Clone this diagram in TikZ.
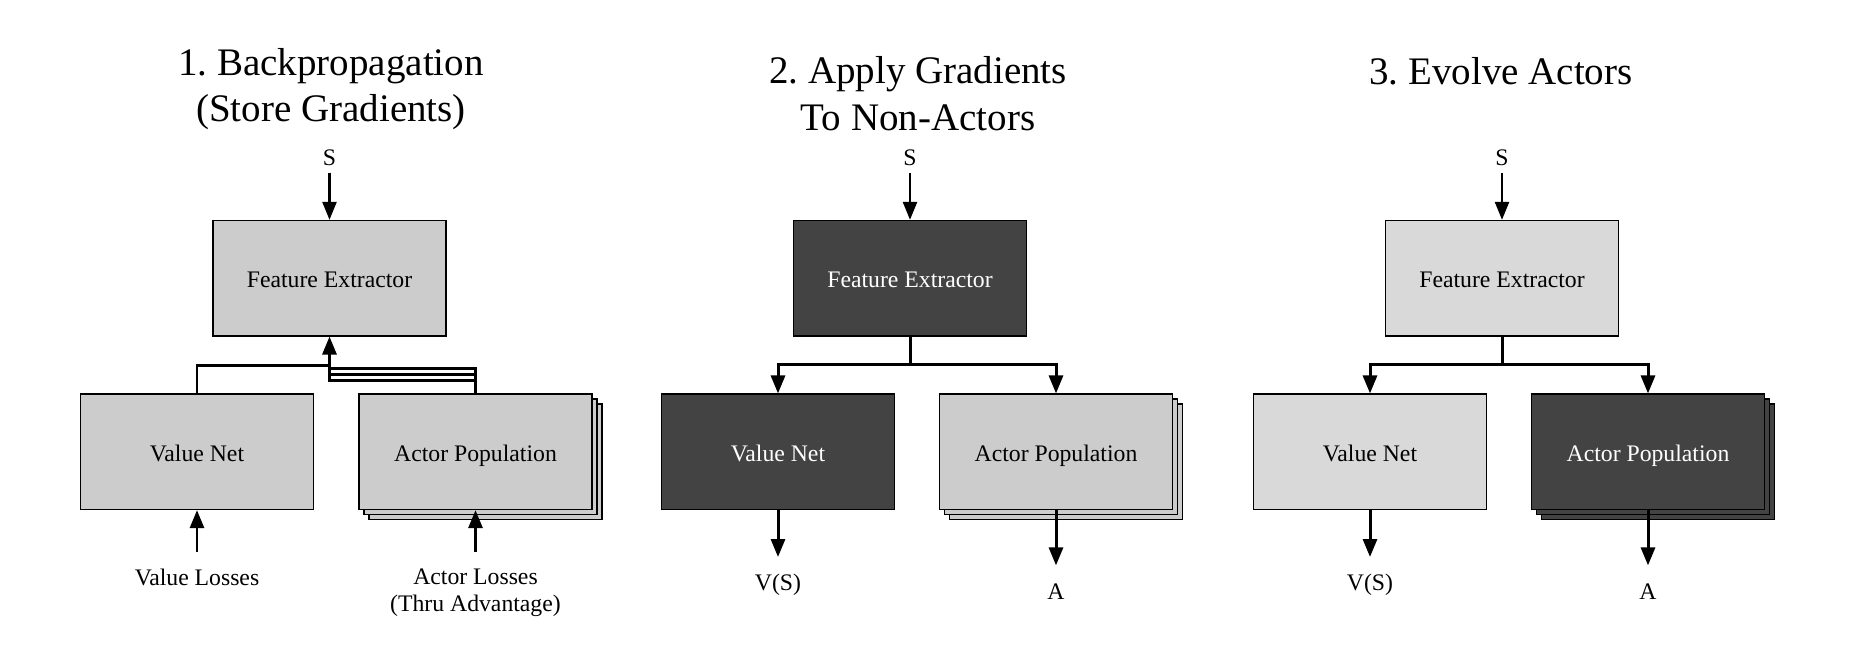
\documentclass[tikz,border=0pt]{standalone}
\usepackage{fontspec}
\setmainfont{Liberation Serif}
\usetikzlibrary{arrows.meta}
\definecolor{boxgray}{HTML}{CCCCCC}
\definecolor{boxpale}{HTML}{D9D9D9}
\definecolor{boxdark}{HTML}{434343}
\frenchspacing

\begin{document}
\begin{tikzpicture}[x = 0.02cm, y = -0.02cm]
\tikzstyle{BoxStyle}=[
shape = rectangle,
minimum width = 4.66cm,
minimum height = 2.31cm,
inner sep = 0pt,
text height = 10.5pt,
text depth = 0pt,
line width = 0.7pt,
font = \fontsize{13.5}{16}\selectfont,
draw]
\tikzstyle{GrayBox}=[BoxStyle, fill = boxgray]
\tikzstyle{PaleBox}=[BoxStyle, fill = boxpale]
\tikzstyle{DarkBox}=[BoxStyle, fill = boxdark, text = white]
\tikzstyle{TitleStyle}=[anchor = north, inner sep = 0pt, align = center, font = \fontsize{22.2}{26.5}\selectfont]
\tikzstyle{LabelStyle}=[anchor = north, inner sep = 0pt, align = center, font = \fontsize{13.5}{15.2}\selectfont]
\tikzstyle{InStyle}=[anchor = south, inner sep = 0pt, font = \fontsize{13.5}{16}\selectfont]
\tikzstyle{Link}=[line width = 1.7pt]
\tikzstyle{Flow}=[Link, -{Triangle[length = 0.36cm, width = 0.28cm]}]
\tikzstyle{Feed}=[Flow, line width = 1.4pt, shorten <= 0.13cm]
\useasboundingbox (0,0) rectangle (1857,656);
\node[TitleStyle] (t1) at (331,48) {1. Backpropagation\\(Store Gradients)};
\node[InStyle] (s1) at (329.5,166) {S};
\node[GrayBox] (fe1) at (329.5,278.2) {Feature Extractor};
\node[GrayBox] (vn1) at (197,451.8) {Value Net};
\node[GrayBox] (ap1c) at (485.5,461.8) {};
\node[GrayBox] (ap1b) at (480.5,456.8) {};
\node[GrayBox] (ap1) at (475.5,451.8) {Actor Population};
\node[LabelStyle] (vl1) at (197,568.7) {Value Losses};
\node[LabelStyle] (al1) at (475.5,568.7) {Actor Losses\\(Thru Advantage)};
\coordinate (g1v) at (329.5,365.7);
\coordinate (g1a) at (329.5,368.7);
\coordinate (g1b) at (329.5,374.3);
\coordinate (g1c) at (329.5,380.7);
\draw[Feed] (s1) -- (fe1);
\draw[Link] (vn1.north) |- (g1v);
\draw[Link] (ap1.north) |- (g1a);
\draw[Link] (ap1.north) |- (g1b);
\draw[Flow] (ap1.north) |- (g1c) -- (fe1.south);
\draw[Flow, shorten <= 0.34cm] (vl1) -- (vn1);
\draw[Flow, shorten <= 0.34cm] (al1) -- (ap1);
\node[TitleStyle] (t2) at (918,56.4) {2. Apply Gradients\\To Non-Actors};
\node[InStyle] (s2) at (910,166) {S};
\node[DarkBox] (fe2) at (910,278.2) {Feature Extractor};
\node[DarkBox] (vn2) at (778,451.8) {Value Net};
\node[GrayBox] (ap2c) at (1066,461.8) {};
\node[GrayBox] (ap2b) at (1061,456.8) {};
\node[GrayBox] (ap2) at (1056,451.8) {Actor Population};
\node[LabelStyle] (vs2) at (778,574) {V(S)};
\node[LabelStyle] (a2) at (1056,583.4) {A};
\coordinate (g2) at (910,364.7);
\draw[Feed] (s2) -- (fe2);
\draw[Link] (fe2.south) -- (g2);
\draw[Flow] (g2) -| (vn2.north);
\draw[Flow] (g2) -| (ap2.north);
\draw[Flow, shorten >= 0.34cm] (vn2) -- (vs2);
\draw[Flow, shorten >= 0.36cm] (ap2) -- (a2);
\node[TitleStyle] (t3) at (1501,57.1) {3. Evolve Actors};
\node[InStyle] (s3) at (1502,166) {S};
\node[PaleBox] (fe3) at (1502,278.2) {Feature Extractor};
\node[PaleBox] (vn3) at (1370,451.8) {Value Net};
\node[DarkBox] (ap3c) at (1658,461.8) {};
\node[DarkBox] (ap3b) at (1653,456.8) {};
\node[DarkBox] (ap3) at (1648,451.8) {Actor Population};
\node[LabelStyle] (vs3) at (1370,574) {V(S)};
\node[LabelStyle] (a3) at (1648,583.4) {A};
\coordinate (g3) at (1502,364.7);
\draw[Feed] (s3) -- (fe3);
\draw[Link] (fe3.south) -- (g3);
\draw[Flow] (g3) -| (vn3.north);
\draw[Flow] (g3) -| (ap3.north);
\draw[Flow, shorten >= 0.34cm] (vn3) -- (vs3);
\draw[Flow, shorten >= 0.36cm] (ap3) -- (a3);
\end{tikzpicture}
\end{document}
